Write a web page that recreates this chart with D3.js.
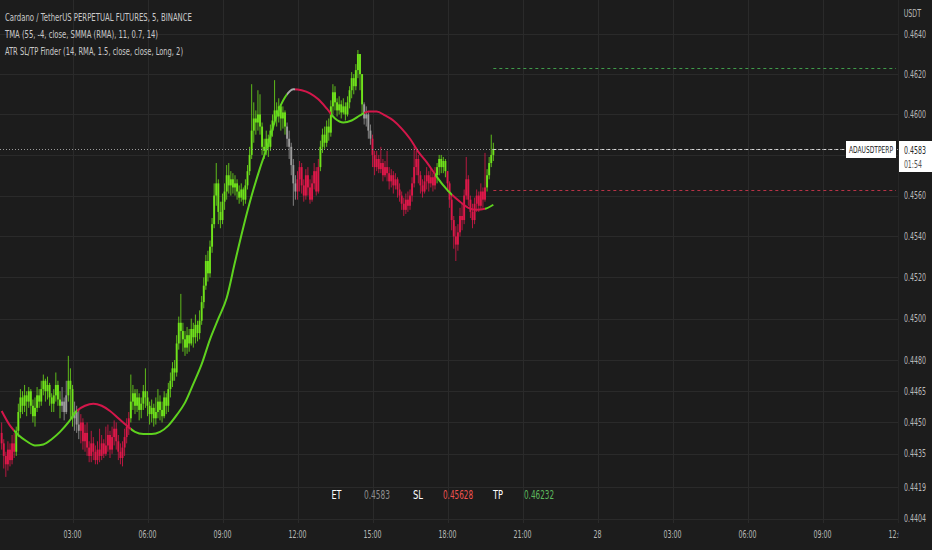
<!DOCTYPE html>
<html><head><meta charset="utf-8">
<script src="https://cdn.jsdelivr.net/npm/d3@7"></script>
<style>html,body{margin:0;padding:0;background:#1c1c1c;overflow:hidden}</style>
</head><body><svg id="c" width="932" height="550"></svg>
<script>
// ---------------- DATA ----------------
const titleLines = ["Cardano / TetherUS PERPETUAL FUTURES, 5, BINANCE",
  "TMA (55, -4, close, SMMA (RMA), 11, 0.7, 14)",
  "ATR SL/TP Finder (14, RMA, 1.5, close, close, Long, 2)"];
const barStart = Date.UTC(2022, 9, 27, 0, 10); // first 5-min bar
const barStepMin = 5;
const firstOpen = 0.4445;
const closes = [
 .4440,.4434,.4430,.4437,.4432,.4440,.4436,
 .4446,.4455,.4462,.4458,.4463,.4460,.4465,.4458,.4453,
 .4457,.4463,.4460,
 .4466,.4470,.4465,.4468,.4462,.4459,
 .4463,.4468,.4461,.4458,.4460,.4455,.4463,.4470,.4466,
 .4452,.4455,.4449,.4446,.4450,.4441,.4445,
 .4438,.4434,.4440,.4436,.4432,.4437,.4434,.4440,.4435,.4439,.4444,.4437,
 .4443,.4447,.4441,.4436,.4433,.4438,.4443,.4448,.4452,
 .4460,.4464,.4458,.4462,.4456,.4459,.4465,.4462,.4458,.4454,.4457,.4452,.4455,
 .4460,.4456,.4453,.4462,.4458,.4466,
 .4470,.4476,.4474,.4488,.4498,.4494,.4490,.4486,
 .4492,.4488,.4495,.4491,.4497,.4493,.4499,
 .4508,.4516,.4528,.4522,.4535,.4546,
 .4560,.4566,.4552,.4548,.4557,.4562,.4570,.4565,
 .4568,.4564,.4566,.4562,.4559,.4563,.4558,.4565,
 .4572,.4580,.4592,.4598,.4596,.4600,.4594,.4584,
 .4582,.4588,.4584,.4592,.4597,
 .4602,.4599,.4604,.4598,.4601,.4594,
 .4588,.4584,.4575,.4566,.4562,
 .4568,.4574,.4565,.4560,.4570,.4564,.4558,.4566,.4572,.4562,.4574,
 .4584,.4590,.4586,.4594,.4591,
 .4604,.4611,.4606,.4602,.4605,.4601,.4604,.4600,.4606,
 .4612,.4618,.4614,.4622,.4630,.4620,.4605,
 .4598,.4600,.4592,.4588,
 .4580,.4574,.4578,.4573,.4576,.4570,.4574,
 .4571,.4567,.4570,.4565,.4568,.4563,.4560,
 .4556,.4553,.4558,.4555,.4560,.4566,
 .4574,.4578,.4570,.4565,.4562,
 .4567,.4570,.4566,.4569,.4565,.4570,
 .4574,.4578,.4574,.4577,.4572,
 .4566,.4558,.4548,.4540,.4536,.4542,
 .4550,.4548,.4560,.4568,.4558,
 .4552,.4548,.4556,
 .4560,.4555,.4562,.4558,.4564,
 .4570,.4576,.4580,.4583];
const highs = [
 .4450,.4442,.4436,.4441,.4440,.4444,.4445,
 .4448,.4459,.4466,.4465,.4468,.4465,.4467,.4466,.4461,
 .4462,.4467,.4466,
 .4470,.4473,.4471,.4472,.4469,.4464,
 .4466,.4474,.4470,.4465,.4467,.4462,.4470,.4482,.4476,
 .4468,.4460,.4458,.4456,.4454,.4452,.4449,
 .4450,.4441,.4446,.4443,.4439,.4441,.4447,.4444,.4442,.4448,.4449,.4446,
 .4448,.4451,.4450,.4444,.4440,.4441,.4447,.4452,.4455,
 .4473,.4468,.4466,.4466,.4464,.4462,.4468,.4476,.4465,.4460,.4461,.4459,.4462,
 .4466,.4463,.4460,.4465,.4464,.4469,
 .4474,.4479,.4480,.4492,.4501,.4512,.4498,.4494,
 .4496,.4495,.4500,.4498,.4502,.4499,.4504,
 .4511,.4520,.4531,.4533,.4538,.4549,
 .4566,.4576,.4568,.4557,.4561,.4566,.4575,.4576,
 .4572,.4571,.4570,.4568,.4565,.4566,.4564,.4568,
 .4575,.4584,.4615,.4606,.4602,.4612,.4610,.4596,
 .4588,.4592,.4590,.4595,.4600,
 .4617,.4606,.4608,.4605,.4604,.4602,
 .4596,.4592,.4586,.4578,.4570,
 .4572,.4577,.4576,.4568,.4573,.4574,.4568,.4570,.4576,.4574,.4578,
 .4587,.4593,.4594,.4597,.4598,
 .4607,.4615,.4614,.4608,.4609,.4607,.4608,.4606,.4609,
 .4614,.4621,.4620,.4625,.4632,.4628,.4620,
 .4606,.4604,.4601,.4595,
 .4590,.4582,.4582,.4580,.4584,.4578,.4577,
 .4582,.4574,.4573,.4572,.4571,.4569,.4566,
 .4562,.4559,.4561,.4562,.4563,.4569,
 .4584,.4582,.4580,.4572,.4568,
 .4570,.4574,.4572,.4573,.4571,.4574,
 .4576,.4580,.4580,.4579,.4578,
 .4572,.4567,.4560,.4550,.4545,.4546,
 .4554,.4556,.4563,.4579,.4570,
 .4560,.4556,.4559,
 .4563,.4562,.4566,.4564,.4581,
 .4573,.4579,.4590,.4586];
const lows = [
 .4437,.4428,.4424,.4427,.4429,.4430,.4433,
 .4434,.4443,.4452,.4454,.4455,.4453,.4457,.4454,.4450,
 .4448,.4455,.4457,
 .4458,.4463,.4460,.4461,.4458,.4455,
 .4455,.4460,.4458,.4452,.4455,.4451,.4454,.4460,.4452,
 .4448,.4446,.4445,.4442,.4440,.4437,.4436,
 .4434,.4431,.4431,.4432,.4430,.4430,.4431,.4432,.4433,.4434,.4436,.4433,
 .4435,.4439,.4437,.4432,.4430,.4429,.4434,.4440,.4444,
 .4450,.4456,.4454,.4455,.4451,.4452,.4456,.4457,.4453,.4449,.4450,.4448,.4449,
 .4452,.4451,.4450,.4452,.4454,.4455,
 .4462,.4467,.4470,.4472,.4485,.4488,.4484,.4482,
 .4483,.4484,.4487,.4486,.4488,.4489,.4490,
 .4497,.4505,.4514,.4518,.4520,.4532,
 .4544,.4555,.4546,.4544,.4546,.4553,.4558,.4561,
 .4560,.4561,.4560,.4558,.4556,.4557,.4555,.4556,
 .4563,.4570,.4578,.4586,.4590,.4592,.4590,.4580,
 .4578,.4580,.4579,.4582,.4589,
 .4595,.4594,.4596,.4592,.4593,.4590,
 .4584,.4578,.4570,.4555,.4558,
 .4558,.4562,.4561,.4557,.4558,.4560,.4556,.4557,.4563,.4560,.4561,
 .4572,.4581,.4583,.4584,.4587,
 .4589,.4600,.4602,.4599,.4600,.4598,.4600,.4597,.4599,
 .4603,.4608,.4610,.4612,.4618,.4612,.4600,
 .4595,.4594,.4588,.4585,
 .4574,.4570,.4572,.4571,.4571,.4567,.4569,
 .4567,.4563,.4564,.4561,.4563,.4559,.4557,
 .4553,.4550,.4551,.4552,.4553,.4557,
 .4564,.4570,.4566,.4561,.4559,
 .4561,.4563,.4562,.4564,.4562,.4563,
 .4566,.4570,.4571,.4571,.4569,
 .4562,.4554,.4543,.4534,.4528,.4533,
 .4540,.4543,.4546,.4558,.4555,
 .4549,.4544,.4546,
 .4552,.4552,.4553,.4554,.4557,
 .4562,.4568,.4574,.4577];
// candle colour runs: start bar index and colour code
const candleColorBars = [0, 7, 29, 32, 35, 38, 62, 137, 142, 153, 174, 178, 209, 214, 233];
const candleColorCodes = ['r','g','n','g','n','r','g','n','r','g','n','r','g','r','g'];
// TMA line: one value every 4 bars
const tmaStep = 4;
const tma = [
 .44555,.44485,.4444,.4441,.4439,.44395,.4442,.44455,.4450,.44555,
 .4458,.4459,.4458,.44555,.4452,.44485,.44455,.44445,.44445,.44455,
 .44485,.44535,.44595,.44685,.4478,.4490,.4500,.4510,.45275,.45445,
 .4560,.45735,.45855,.45995,.46085,.46125,.4612,.46105,.46075,.4603,
 .4598,.4596,.4597,.45995,.46015,.46015,.45995,.4597,.4593,.4588,
 .45815,.45765,.45705,.4565,.45605,.4557,.4554,.4553,.45535,.45555];
const tmaTrendBars = [0, 6, 36, 62, 137, 141, 158, 174, 208, 216, 232];
const tmaTrendCodes = ['r','g','r','g','n','r','g','r','g','r','g'];
// levels
const lastPrice = 0.4583, stopLoss = 0.45628, takeProfit = 0.46232;
const symbol = "ADAUSDTPERP", countdown = "01:54";
const bottomLabels = [["ET","0.4583"],["SL","0.45628"],["TP","0.46232"]];
const priceTicks = [0.4640,0.4620,0.4600,0.4580,0.4560,0.4540,0.4520,0.4500,0.4480,0.4465,0.4450,0.4435,0.4419,0.4404];
const hiddenTickLabels = [0.4580]; // covered by the last-price box
const timeTickStart = Date.UTC(2022, 9, 27, 3), timeTickEnd = Date.UTC(2022, 9, 28, 12);

// ---------------- STYLE ----------------
const BG = '#1c1c1c', GRID = '#2a2a2a', TXT = '#b8b8b8';
const FONT = '"Liberation Sans Narrow","DejaVu Sans Condensed","Noto Sans",sans-serif';
const candleCol = {g:'#6fe21b', r:'#dc1849', n:'#9c9c9c'};
const lineCol = {g:'#5ed21e', r:'#d3164a', n:'#a8a8a8'};
const plotRight = 898, plotBottom = 523;

const svg = d3.select('#c');
svg.append('rect').attr('width',932).attr('height',550).attr('fill',BG);

const y = d3.scaleLog().domain([0.4404, 0.4640]).range([519, 34]);
const x = d3.scaleUtc().domain([new Date(timeTickStart), new Date(timeTickEnd)]).range([72.5, 897.5]);
const barTime = i => new Date(barStart + i * barStepMin * 60000);
const bx = i => x(barTime(i));

function squeeze(sel, ratio){
  sel.each(function(){
    const w = this.getComputedTextLength();
    d3.select(this).attr('textLength', w*ratio).attr('lengthAdjust','spacingAndGlyphs');
  });
}
function fitTo(sel, w){ sel.attr('textLength', w).attr('lengthAdjust','spacingAndGlyphs'); }

const defs = svg.append('defs');
defs.append('clipPath').attr('id','plotclip').append('rect').attr('x',0).attr('y',0).attr('width',plotRight).attr('height',plotBottom);
defs.append('clipPath').attr('id','axisclip').append('rect').attr('x',0).attr('y',0).attr('width',899).attr('height',550);

// grid
const timeTicks = x.ticks(d3.utcHour.every(3));
const grid = svg.append('g').attr('clip-path','url(#plotclip)');
grid.selectAll('line.v').data(timeTicks).join('line')
  .attr('x1',d=>Math.round(x(d))+0.5).attr('x2',d=>Math.round(x(d))+0.5)
  .attr('y1',0).attr('y2',plotBottom).attr('stroke',GRID).attr('stroke-width',1);
grid.selectAll('line.h').data(priceTicks).join('line')
  .attr('x1',0).attr('x2',plotRight)
  .attr('y1',d=>Math.round(y(d))+0.5).attr('y2',d=>Math.round(y(d))+0.5)
  .attr('stroke',GRID).attr('stroke-width',1);
svg.append('line').attr('x1',898.5).attr('x2',898.5).attr('y1',0).attr('y2',plotBottom).attr('stroke','#262626');

// candles
const candleColorOf = i => { let c='r'; candleColorBars.forEach((b,k)=>{ if(i>=b) c=candleColorCodes[k]; }); return candleCol[c]; };
const bars = closes.map((c,i)=>{
  const o = i===0 ? firstOpen : closes[i-1];
  return {i, o, c, h: Math.max(highs[i], o, c), l: Math.min(lows[i], o, c)};
});
const plot = svg.append('g').attr('clip-path','url(#plotclip)');
const cg = plot.append('g');
cg.selectAll('line.w').data(bars).join('line')
  .attr('x1',d=>bx(d.i)).attr('x2',d=>bx(d.i))
  .attr('y1',d=>y(d.h)).attr('y2',d=>y(d.l))
  .attr('stroke',d=>candleColorOf(d.i)).attr('stroke-width',1).attr('opacity',0.8);
cg.selectAll('rect.b').data(bars).join('rect')
  .attr('x',d=>bx(d.i)-0.95).attr('width',1.9)
  .attr('y',d=>y(Math.max(d.o,d.c)))
  .attr('height',d=>Math.max(1, Math.abs(y(d.o)-y(d.c))))
  .attr('fill',d=>candleColorOf(d.i));

// TMA line with trend colouring
const grad = defs.append('linearGradient').attr('id','tmagrad').attr('gradientUnits','userSpaceOnUse')
  .attr('x1',0).attr('x2',plotRight).attr('y1',0).attr('y2',0);
tmaTrendBars.forEach((b,k)=>{
  const off = Math.max(0, bx(b)/plotRight);
  if(k>0) grad.append('stop').attr('offset',off).attr('stop-color',lineCol[tmaTrendCodes[k-1]]);
  grad.append('stop').attr('offset',off).attr('stop-color',lineCol[tmaTrendCodes[k]]);
});
const tmaPts = tma.map((v,k)=>[bx(k*tmaStep), y(v)]);
plot.append('path').attr('d', d3.line().curve(d3.curveMonotoneX)(tmaPts))
  .attr('fill','none').attr('stroke','url(#tmagrad)').attr('stroke-width',2);

// price lines
const lastX = bx(closes.length-1);
plot.append('line').attr('x1',0).attr('x2',plotRight).attr('y1',Math.round(y(lastPrice))+0.5).attr('y2',Math.round(y(lastPrice))+0.5)
  .attr('stroke','#9a9a9a').attr('stroke-width',1).attr('stroke-dasharray','1,2');
plot.append('line').attr('x1',lastX).attr('x2',846).attr('y1',Math.round(y(lastPrice))+0.5).attr('y2',Math.round(y(lastPrice))+0.5)
  .attr('stroke','#d8d8d8').attr('stroke-width',1).attr('stroke-dasharray','3,3');
plot.append('line').attr('x1',lastX).attr('x2',plotRight-2).attr('y1',Math.round(y(takeProfit))+0.5).attr('y2',Math.round(y(takeProfit))+0.5)
  .attr('stroke','#3f9b4a').attr('stroke-width',1).attr('stroke-dasharray','3,3');
plot.append('line').attr('x1',lastX).attr('x2',plotRight-2).attr('y1',Math.round(y(stopLoss))+0.5).attr('y2',Math.round(y(stopLoss))+0.5)
  .attr('stroke','#b83246').attr('stroke-width',1).attr('stroke-dasharray','3,3');

// titles
const tw = [187, 153, 178];
svg.selectAll('text.title').data(titleLines).join('text')
  .attr('x',5).attr('y',(d,i)=>20.5+i*17.4)
  .attr('font-family',FONT).attr('font-size',11).attr('fill','#c9c9c9')
  .text(d=>d).each(function(d,i){ fitTo(d3.select(this), tw[i]); });

// y axis labels (right-anchored so they stay inside the frame)
const yax = svg.append('g');
const ylabels = yax.selectAll('text').data(priceTicks.filter(v=>!hiddenTickLabels.includes(v))).join('text')
  .attr('x',926).attr('y',d=>Math.min(y(d), 518)).attr('dy','0.36em').attr('text-anchor','end')
  .attr('font-family',FONT).attr('font-size',10).attr('fill',TXT)
  .text(d=>d.toFixed(4));
const yRatio = 22 / ylabels.node().getComputedTextLength();
squeeze(ylabels, yRatio);
const usdt = svg.append('text').attr('x',921).attr('y',13).attr('dy','0.36em').attr('text-anchor','end')
  .attr('font-family',FONT).attr('font-size',10).attr('fill',TXT).text('USDT');
squeeze(usdt, yRatio);

// x axis labels
const fmt = d => d.getUTCHours()===0 ? d3.utcFormat('%-d')(d) : d3.utcFormat('%H:%M')(d);
const xlabels = svg.append('g').attr('clip-path','url(#axisclip)').selectAll('text').data(timeTicks).join('text')
  .attr('x',d=>x(d)).attr('y',534).attr('dy','0.36em').attr('text-anchor','middle')
  .attr('font-family',FONT).attr('font-size',10).attr('fill',TXT).text(fmt);
squeeze(xlabels, yRatio);

// symbol + price boxes
const py = Math.round(y(lastPrice));
svg.append('rect').attr('x',846).attr('y',py-8).attr('width',50).attr('height',17).attr('fill','#ffffff');
fitTo(svg.append('text').attr('x',871).attr('y',py+0.5).attr('dy','0.36em').attr('text-anchor','middle')
  .attr('font-family',FONT).attr('font-size',9).attr('fill','#1a1a1a').text(symbol), 44);
svg.append('rect').attr('x',899).attr('y',py-8).attr('width',33).attr('height',31).attr('fill','#ffffff');
const pl = svg.append('text').attr('x',926).attr('y',py+1).attr('dy','0.36em').attr('text-anchor','end')
  .attr('font-family',FONT).attr('font-size',10).attr('fill','#2a2a2a').text(lastPrice.toFixed(4));
squeeze(pl, yRatio);
const cd = svg.append('text').attr('x',922).attr('y',py+15).attr('dy','0.36em').attr('text-anchor','end')
  .attr('font-family',FONT).attr('font-size',10).attr('fill','#555555').text(countdown);
squeeze(cd, yRatio);

// bottom ET/SL/TP table
const bl = [[336.5,377],[418,458],[498,539]];
const valCol = ['#8e8e8e','#ef5350','#5cb85c'];
const valW = [26,30,30];
bottomLabels.forEach((p,k)=>{
  fitTo(svg.append('text').attr('x',bl[k][0]).attr('y',494).attr('dy','0.36em').attr('text-anchor','middle')
    .attr('font-family',FONT).attr('font-size',12.5).attr('fill','#ffffff').text(p[0]), 10);
  fitTo(svg.append('text').attr('x',bl[k][1]).attr('y',494).attr('dy','0.36em').attr('text-anchor','middle')
    .attr('font-family',FONT).attr('font-size',12.5).attr('fill',valCol[k]).text(p[1]), valW[k]);
});
</script>
</body></html>
